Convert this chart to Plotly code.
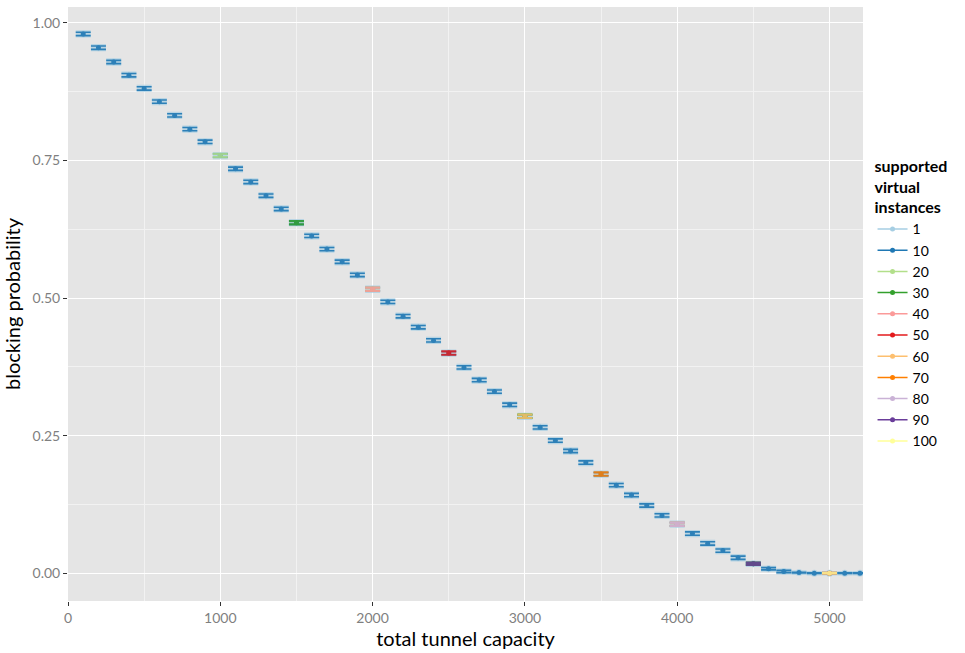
import plotly.graph_objects as go

# ---- data ----
capacity = list(range(100, 5300, 100))
blocking = [0.980, 0.955, 0.929, 0.905, 0.881, 0.857, 0.832, 0.807, 0.784, 0.759,
            0.735, 0.711, 0.686, 0.662, 0.637, 0.613, 0.589, 0.566, 0.542, 0.516,
            0.493, 0.467, 0.447, 0.423, 0.400, 0.374, 0.351, 0.330, 0.306, 0.285,
            0.265, 0.241, 0.222, 0.201, 0.180, 0.160, 0.142, 0.123, 0.105, 0.089,
            0.072, 0.054, 0.041, 0.028, 0.017, 0.008, 0.003, 0.001, 0.0, 0.0,
            0.0, 0.0]
spread = [0.003 if b > 0.02 else (0.002 if b > 0.002 else 0.0005) for b in blocking]

instances = [1, 10, 20, 30, 40, 50, 60, 70, 80, 90, 100]
colors = ["#A6CEE3", "#1F78B4", "#B2DF8A", "#33A02C", "#FB9A99", "#E31A1C",
          "#FDBF6F", "#FF7F00", "#CAB2D6", "#6A3D9A", "#FFFF99"]
# capacities at which each instance-count series was evaluated
series_x = {
    1: capacity,
    10: capacity,
    20: [1000, 2000, 3000, 4000, 5000],
    30: [1500, 3000, 4500],
    40: [2000, 4000],
    50: [2500, 5000],
    60: [3000],
    70: [3500],
    80: [4000],
    90: [4500],
    100: [5000],
}

lookup = dict(zip(capacity, blocking))
lookup_sp = dict(zip(capacity, spread))

fig = go.Figure()
for n, col in zip(instances, colors):
    xs = series_x[n]
    ys = [lookup[x] for x in xs]
    es = [lookup_sp[x] for x in xs]
    if n == 1:
        thick, msize, op = 4, 7, 0.7
    elif n == 10:
        thick, msize, op = 1.6, 5, 0.9
    else:
        thick, msize, op = 2.2, 5, 0.85
    fig.add_trace(go.Scatter(
        x=xs, y=ys, mode="markers", showlegend=False, opacity=op,
        marker=dict(color=col, size=msize),
        error_y=dict(type="data", array=es, color=col, thickness=thick, width=7.5),
        hoverinfo="x+y",
    ))

for n, col in zip(instances, colors):
    fig.add_trace(go.Scatter(
        x=[None], y=[None], mode="lines+markers", name=str(n),
        line=dict(color=col, width=1.5), marker=dict(color=col, size=5),
    ))

fig.update_layout(
    width=965, height=653,
    margin=dict(l=68, r=102, t=7, b=49),
    paper_bgcolor="white", plot_bgcolor="#E5E5E5",
    font=dict(family="Lato, sans-serif", color="black"),
    legend=dict(
        title=dict(text="<b>supported<br>virtual<br>instances</b>", font=dict(size=16)),
        x=1.012, xanchor="left", y=0.5, yanchor="middle",
        font=dict(size=14), tracegroupgap=0,
    ),
)
fig.update_xaxes(
    range=[0, 5220], tickvals=[0, 1000, 2000, 3000, 4000, 5000],
    ticks="outside", ticklen=4, tickcolor="#333333",
    tickfont=dict(size=14, color="#7F7F7F", family="Lato, sans-serif"),
    showgrid=True, gridcolor="white", gridwidth=1.2, zeroline=False,
    minor=dict(tickvals=[500, 1500, 2500, 3500, 4500], showgrid=True,
               gridcolor="#F2F2F2", gridwidth=0.6),
    title=dict(text="total tunnel capacity", font=dict(size=20), standoff=6),
)
fig.update_yaxes(
    range=[-0.0506, 1.029], tickvals=[0, 0.25, 0.5, 0.75, 1.0],
    ticktext=["0.00", "0.25", "0.50", "0.75", "1.00"],
    ticks="outside", ticklen=4, tickcolor="#333333",
    tickfont=dict(size=14, color="#7F7F7F", family="Lato, sans-serif"),
    showgrid=True, gridcolor="white", gridwidth=1.2, zeroline=False,
    minor=dict(tickvals=[0.125, 0.375, 0.625, 0.875], showgrid=True,
               gridcolor="#F2F2F2", gridwidth=0.6),
    title=dict(text="blocking probability", font=dict(size=20), standoff=6),
)

fig.write_html("out.html")
